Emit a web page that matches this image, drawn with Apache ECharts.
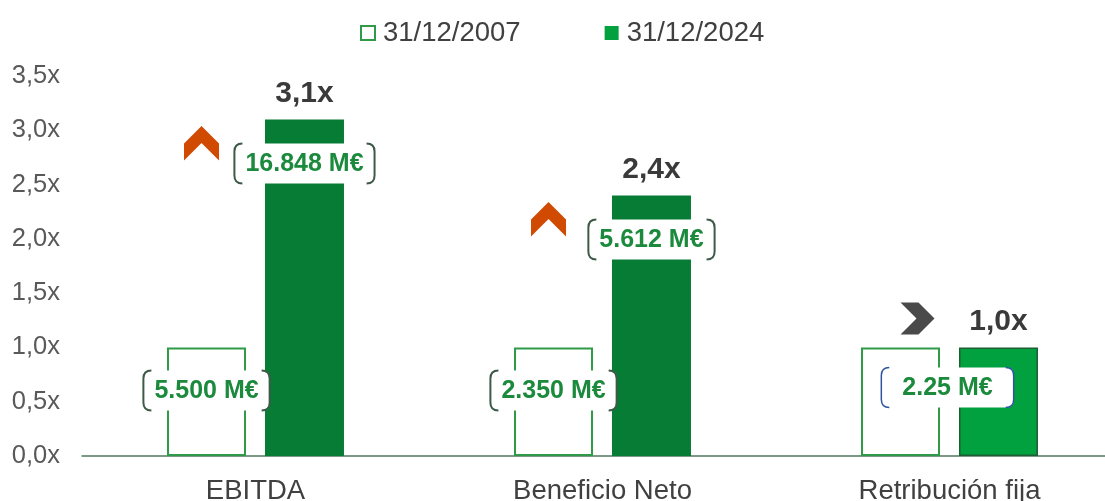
<!DOCTYPE html>
<html>
<head>
<meta charset="utf-8">
<script src="https://cdn.jsdelivr.net/npm/echarts@6/dist/echarts.min.js"></script>
<style>
  html, body { margin: 0; padding: 0; background: #fff; }
  #main { width: 1105px; height: 501px; }
</style>
</head>
<body>
<div id="main"></div>
<script>
// datos del gráfico
const categories = ['EBITDA', 'Beneficio Neto', 'Retribución fija'];
const seriesNames = ['31/12/2007', '31/12/2024'];
const values2007 = [1.0, 1.0, 1.0];
const values2024 = [3.1, 2.4, 1.0];
const tags2007 = ['5.500 M€', '2.350 M€', ''];
const tags2024 = ['16.848 M€', '5.612 M€', '2.25 M€'];
const trend = ['up', 'up', 'flat'];
const yTicks = [0, 0.5, 1, 1.5, 2, 2.5, 3, 3.5];

const FONT = '"Liberation Sans", Arial, sans-serif';
const BAR_W = 79;
const GAP = 0.24;
const GREEN_LINE = '#2f9a48';
const GREEN_DARK = '#067c35';
const GREEN_BRIGHT = '#00a13e';
const TAG_GREEN = '#1b8a3d';

const ctx = document.createElement('canvas').getContext('2d');
function textWidth(s, font) {
  ctx.font = font;
  return ctx.measureText(s).width;
}
function fmtX(v) {
  return v.toFixed(1).replace('.', ',') + 'x';
}

// etiqueta con corchetes
function bracketTag(text, cx, cy, pad, color, lw) {
  const font = 'bold 25px ' + FONT;
  const w = textWidth(text, font) + pad * 2;
  const h = 40;
  const x0 = cx - w / 2, x1 = cx + w / 2;
  const y0 = cy - h / 2, y1 = cy + h / 2;
  const k = 8;
  return [
    { type: 'rect', shape: { x: x0, y: y0, width: w, height: h, r: 6 }, style: { fill: '#fff' } },
    { type: 'path', shape: { pathData: `M${x0 + k},${y0} Q${x0},${y0} ${x0},${y0 + k} L${x0},${y1 - k} Q${x0},${y1} ${x0 + k},${y1}` },
      style: { fill: null, stroke: color, lineWidth: lw } },
    { type: 'path', shape: { pathData: `M${x1 - k},${y0} Q${x1},${y0} ${x1},${y0 + k} L${x1},${y1 - k} Q${x1},${y1} ${x1 - k},${y1}` },
      style: { fill: null, stroke: color, lineWidth: lw } },
    { type: 'text', style: { text: text, x: cx, y: cy + 1, align: 'center', verticalAlign: 'middle', font: font, fill: TAG_GREEN } }
  ];
}

function chevron(dir, cx, cy) {
  if (dir === 'up') {
    return {
      type: 'polygon',
      shape: { points: [[cx, cy - 17.5], [cx + 17.5, cy], [cx + 17.5, cy + 17], [cx, cy - 0.5], [cx - 17.5, cy + 17], [cx - 17.5, cy]] },
      style: { fill: '#d04a02' }
    };
  }
  return {
    type: 'polygon',
    shape: { points: [[cx - 17, cy - 16], [cx + 1, cy - 16], [cx + 17, cy], [cx + 1, cy + 16], [cx - 17, cy + 16], [cx - 1, cy]] },
    style: { fill: '#4a4a4a' }
  };
}

function renderDecor(params, api) {
  const i = api.value(0);
  const base = api.coord([i, 0]);
  const top07 = api.coord([i, api.value(1)]);
  const top24 = api.coord([i, api.value(2)]);
  const half = BAR_W * (1 + GAP) / 2;
  const cx = base[0];
  let children = [];
  if (tags2007[i]) {
    children = children.concat(bracketTag(tags2007[i], cx - half, top07[1] + 43, 11, '#3d5a48', 2));
    children = children.concat(bracketTag(tags2024[i], cx + half, top24[1] + 44, 11, '#3d5a48', 2));
  } else {
    children = children.concat(bracketTag(tags2024[i], cx - 2, top24[1] + 40, 21, '#2f55a0', 1.5));
  }
  if (trend[i] === 'up') {
    children.push(chevron('up', cx - half - 5, top24[1] + 24));
  } else {
    children.push(chevron('flat', cx - 32, top24[1] - 29));
  }
  return { type: 'group', children: children };
}

const chart = echarts.init(document.getElementById('main'), null, { renderer: 'canvas' });

const option = {
  animation: false,
  textStyle: { fontFamily: FONT },
  legend: {
    top: 14,
    left: 355,
    itemWidth: 14,
    itemHeight: 14,
    itemGap: 84,
    icon: 'rect',
    textStyle: { fontSize: 27.5, color: '#404040', fontFamily: FONT, padding: [0, 0, 0, 3] },
    data: seriesNames
  },
  grid: { left: 82, width: 1041, top: 76, bottom: 45, containLabel: false, outerBoundsMode: 'none' },
  xAxis: {
    type: 'category',
    data: categories,
    axisLine: { lineStyle: { color: '#4f7a60', width: 1.5 } },
    axisTick: { show: false },
    axisLabel: { fontSize: 27.5, color: '#404040', margin: 21, fontFamily: FONT }
  },
  yAxis: {
    type: 'value',
    min: yTicks[0],
    max: yTicks[yTicks.length - 1],
    interval: 0.5,
    axisLine: { show: false },
    axisTick: { show: false },
    splitLine: { show: false },
    axisLabel: { fontSize: 25.5, color: '#595959', margin: 22, formatter: fmtX, fontFamily: FONT }
  },
  series: [
    {
      name: seriesNames[0],
      type: 'bar',
      barWidth: BAR_W,
      barGap: (GAP * 100) + '%',
      data: values2007,
      itemStyle: { color: '#fff', borderColor: GREEN_LINE, borderWidth: 2 }
    },
    {
      name: seriesNames[1],
      type: 'bar',
      barWidth: BAR_W,
      data: values2024.map((v, i) => ({
        value: v,
        itemStyle: i < 2 ? { color: GREEN_DARK } : { color: GREEN_BRIGHT, borderColor: '#1d5e33', borderWidth: 1.5 }
      })),
      itemStyle: { color: GREEN_BRIGHT },
      label: {
        show: true,
        position: 'top',
        distance: 11,
        formatter: p => fmtX(p.value),
        fontSize: 30,
        fontWeight: 'bold',
        color: '#3a3a3a',
        fontFamily: FONT
      }
    },
    {
      type: 'custom',
      renderItem: renderDecor,
      silent: true,
      z: 10,
      data: categories.map((c, i) => [i, values2007[i], values2024[i]])
    }
  ]
};

chart.setOption(option);
</script>
</body>
</html>
